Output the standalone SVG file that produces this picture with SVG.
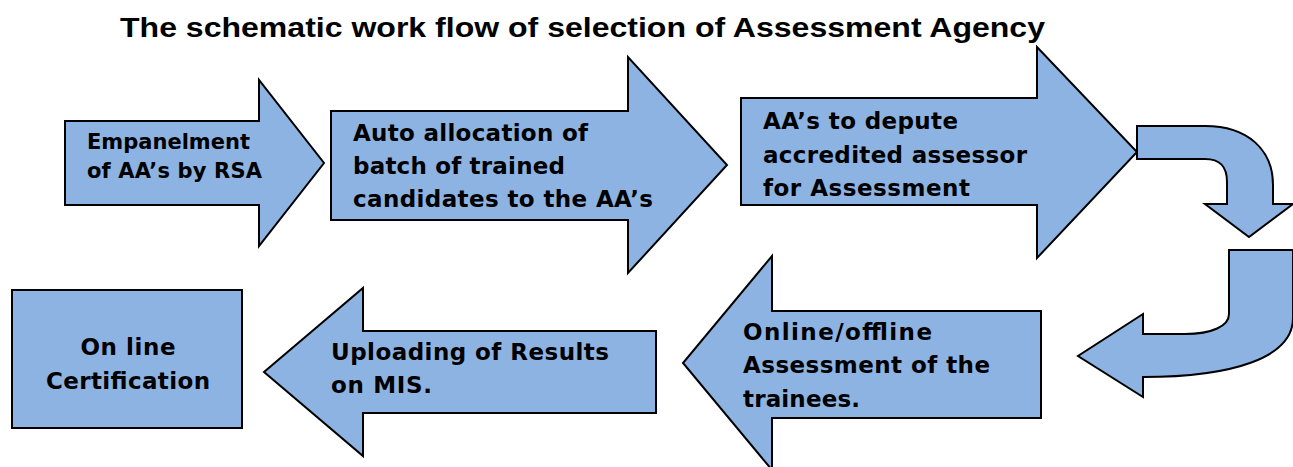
<svg xmlns="http://www.w3.org/2000/svg" width="1293" height="467" viewBox="0 0 1293 467">
<style>
.shape{fill:#8DB3E2;stroke:#000;stroke-width:2;stroke-linejoin:miter}
.t{font-family:"DejaVu Sans",Verdana,sans-serif;font-weight:bold;font-size:23px;fill:#000}
.s{font-size:21px}
.title{font-family:"Liberation Sans",Arial,sans-serif;font-weight:bold;font-size:28px;fill:#000}
</style>
<rect width="1293" height="467" fill="#fff"/>
<text class="title" x="120" y="37" textLength="925" lengthAdjust="spacingAndGlyphs">The schematic work flow of selection of Assessment Agency</text>
<g id="node-empanelment">
<path class="shape" d="M65,121 L259,121 L259,80 L324,163 L259,246 L259,205 L65,205 Z"/>
<text class="t s" x="87" y="149" textLength="163">Empanelment</text>
<text class="t s" x="87" y="178" textLength="175">of AA’s by RSA</text>
</g>
<g id="node-auto-allocation">
<path class="shape" d="M331,111 L628,111 L628,57 L727,165 L628,273 L628,220 L331,220 Z"/>
<text class="t" x="353" y="141" textLength="235">Auto allocation of</text>
<text class="t" x="353" y="174" textLength="212">batch of trained</text>
<text class="t" x="353" y="207" textLength="300">candidates to the AA’s</text>
</g>
<g id="node-depute">
<path class="shape" d="M741,98 L1037,98 L1037,47 L1137,152 L1037,258 L1037,205 L741,205 Z"/>
<text class="t" x="763" y="129" textLength="195">AA’s to depute</text>
<text class="t" x="763" y="163" textLength="264">accredited assessor</text>
<text class="t" x="763" y="196" textLength="207">for Assessment</text>
</g>
<g id="connectors">
<path class="shape" d="M1137,126 L1205,126 C1248,126 1273,150 1273,185 L1273,204 L1293,204 L1249,237 L1205,204 L1227,204 L1227,182 C1227,166 1220,159 1205,159 L1137,159 Z"/>
<path class="shape" d="M1229,250 L1293,250 L1293,318 C1293,358 1232,377 1143,377 L1143,397 L1078,356 L1143,314 L1143,334 L1185,334 C1212,334 1229,326 1229,314 Z"/>
</g>
<g id="node-online-assessment">
<path class="shape" d="M1041,311 L1041,418 L772,418 L772,470 L683,363 L772,256 L772,311 Z"/>
<text class="t" x="743" y="340" textLength="189">Online/offline</text>
<text class="t" x="743" y="373" textLength="247">Assessment of the</text>
<text class="t" x="743" y="407" textLength="117">trainees.</text>
</g>
<g id="node-uploading">
<path class="shape" d="M656,331 L656,413 L363,413 L363,456 L264,372 L363,288 L363,331 Z"/>
<text class="t" x="331" y="360" textLength="278">Uploading of Results</text>
<text class="t" x="331" y="393" textLength="101">on MIS.</text>
</g>
<g id="node-certification">
<rect class="shape" x="12" y="290" width="230" height="138"/>
<text class="t" x="128" y="355" text-anchor="middle" textLength="95">On line</text>
<text class="t" x="128" y="389" text-anchor="middle" textLength="164">Certification</text>
</g>
</svg>
